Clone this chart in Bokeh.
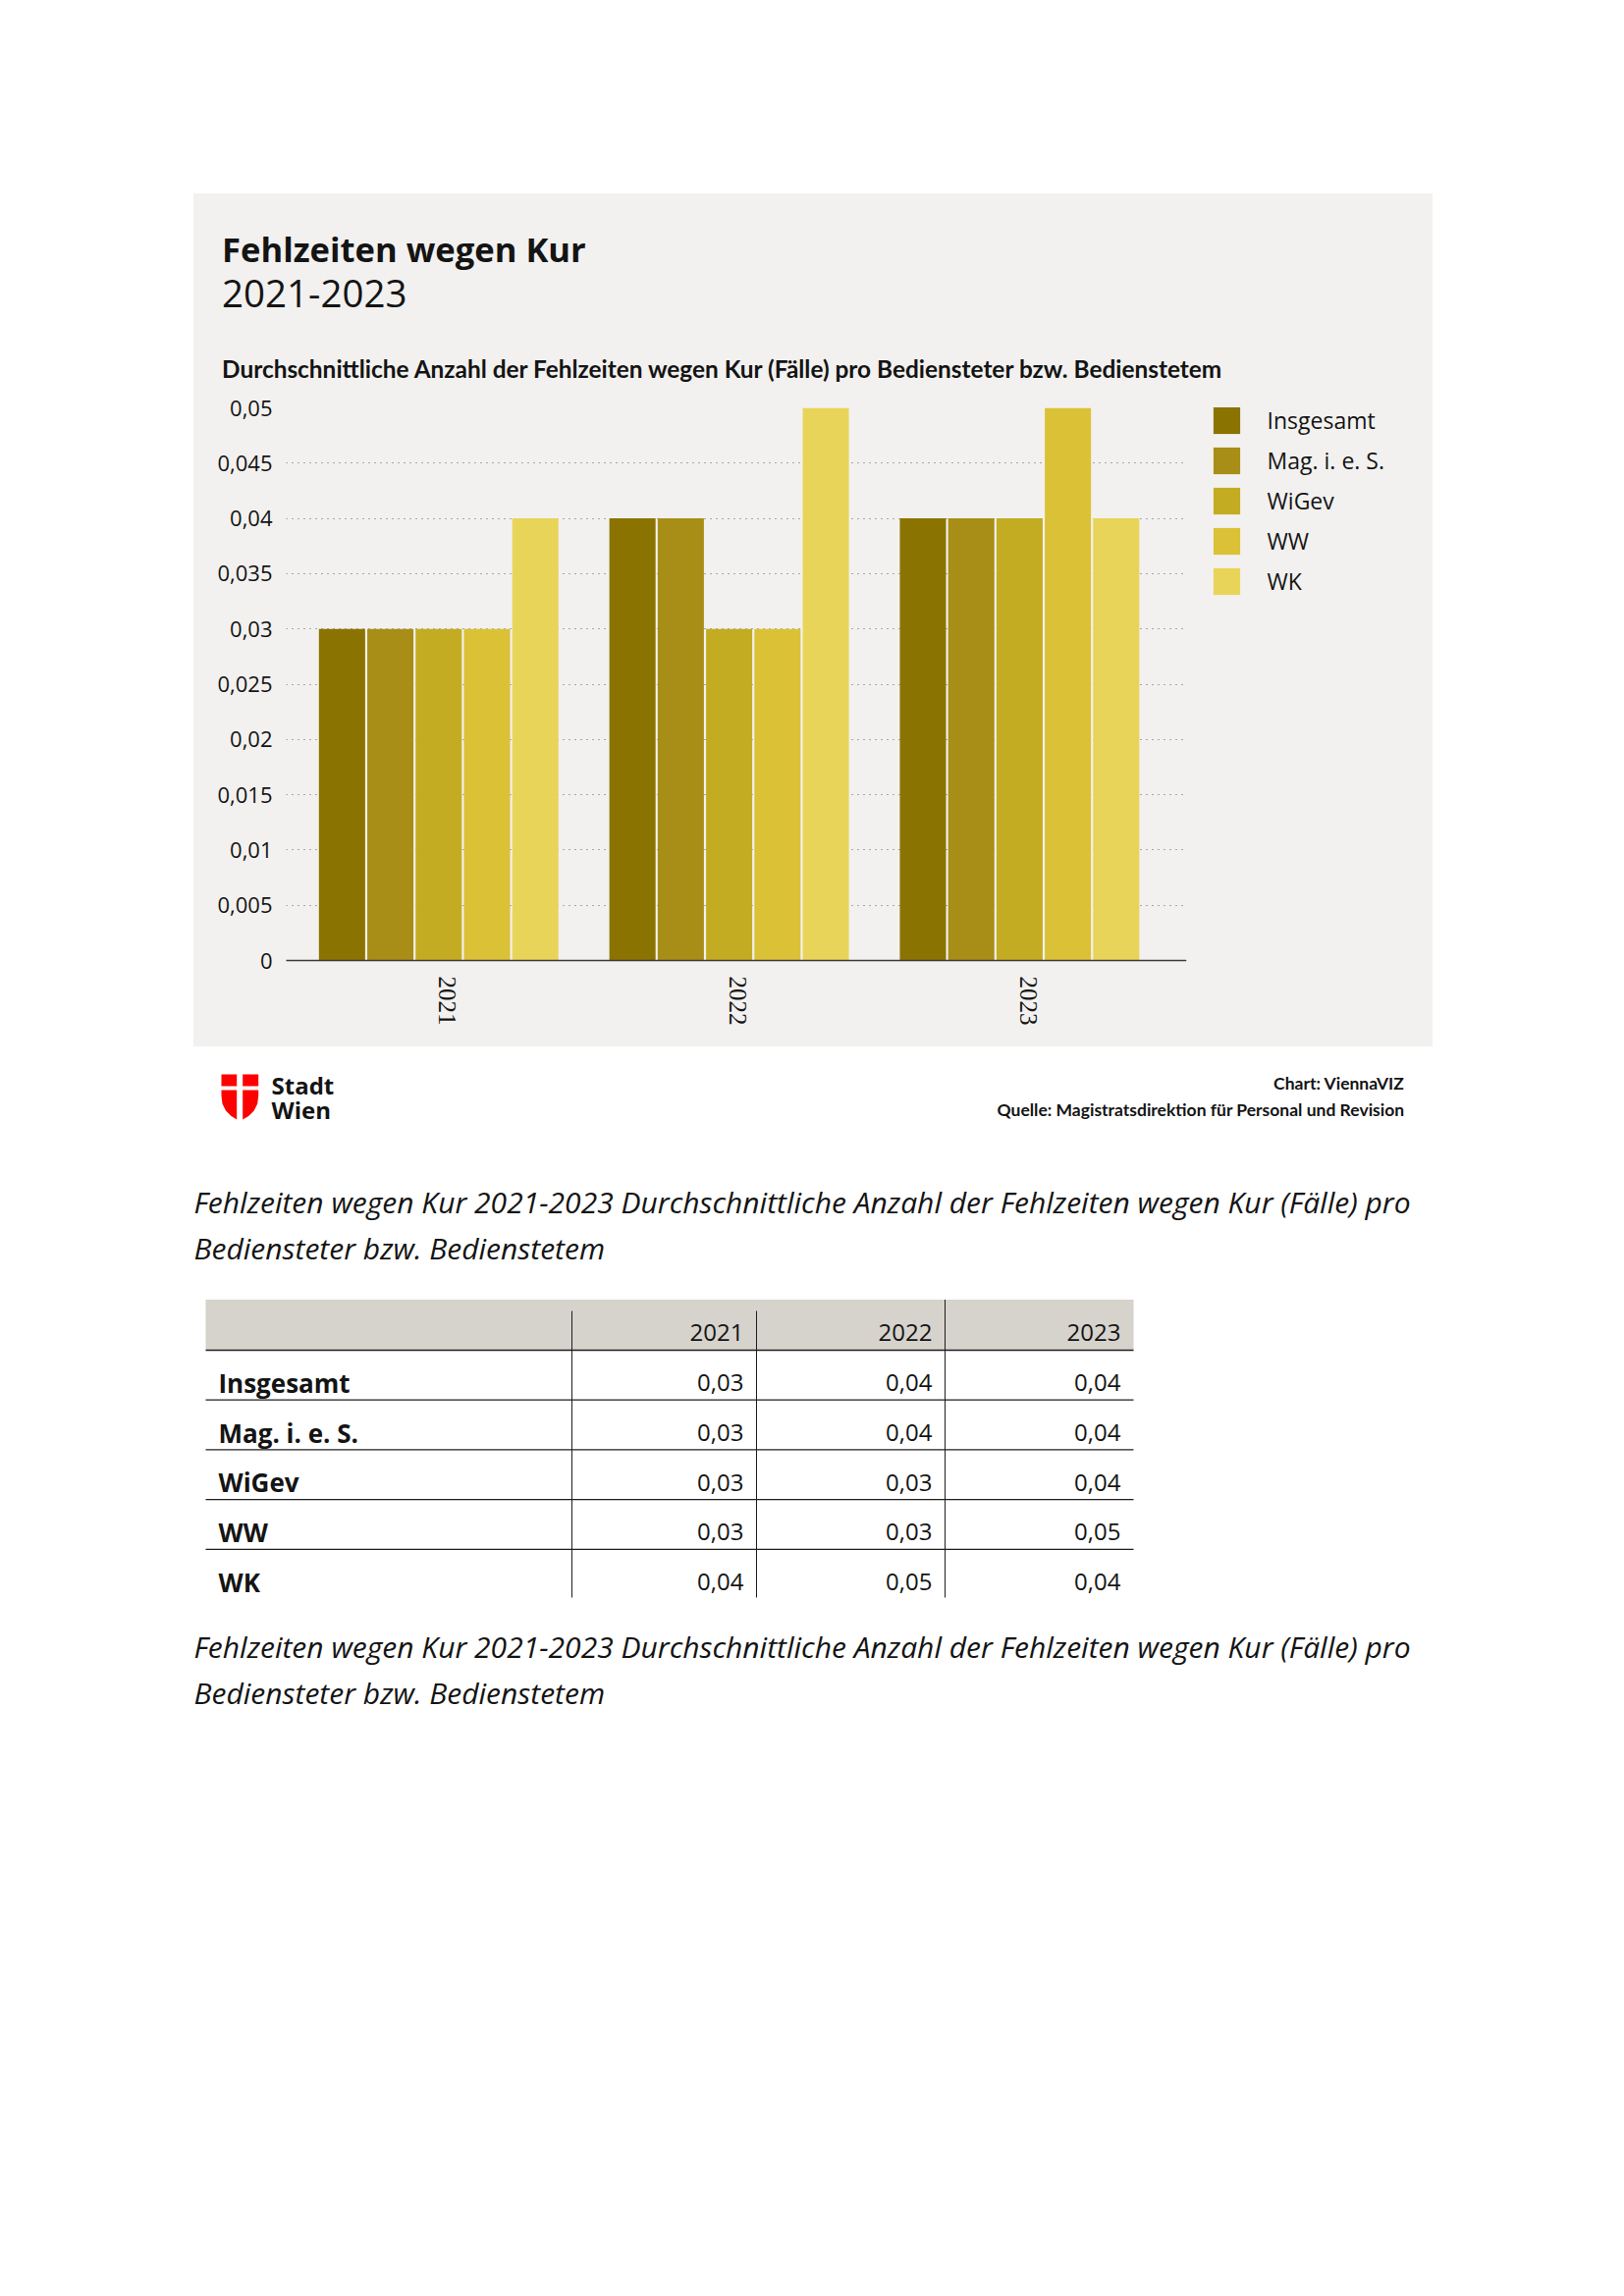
from bokeh.plotting import figure
from bokeh.models import (Range1d, FixedTicker, CustomJSTickFormatter, Legend, LegendItem,
                          Spacer, ColumnDataSource)
from bokeh.layouts import column, row
from bokeh.embed import file_html
from bokeh.resources import INLINE
from bokeh.core.properties import value

# ---------------- data ----------------
years = ["2021", "2022", "2023"]
series_names = ["Insgesamt", "Mag. i. e. S.", "WiGev", "WW", "WK"]
insgesamt = [0.03, 0.04, 0.04]
mag_ies = [0.03, 0.04, 0.04]
wigev = [0.03, 0.03, 0.04]
ww = [0.03, 0.03, 0.05]
wk = [0.04, 0.05, 0.04]
y_ticks = [0, 0.005, 0.01, 0.015, 0.02, 0.025, 0.03, 0.035, 0.04, 0.045, 0.05]

title_text = "Fehlzeiten wegen Kur"
period_text = "2021-2023"
subtitle_text = "Durchschnittliche Anzahl der Fehlzeiten wegen Kur (Fälle) pro Bediensteter bzw. Bedienstetem"
caption_lines = ["Fehlzeiten wegen Kur 2021-2023 Durchschnittliche Anzahl der Fehlzeiten wegen Kur (Fälle) pro",
                 "Bediensteter bzw. Bedienstetem"]
credit_text = "Chart: ViennaVIZ"
source_text = "Quelle: Magistratsdirektion für Personal und Revision"
logo_words = ["Stadt", "Wien"]

# ---------------- styles ----------------
colors = ["#8a7300", "#a88e16", "#c4ac22", "#dbc136", "#e9d45a"]
BG = "#f2f1ef"
INK = "#141414"

PAGE_LEFT, PAGE_TOP = 197, 197
PANEL_W = 1262
HEAD_H = 198
CHART_H = 671
CHART_W = 1011          # 94 px axis border + 917 px plot frame
LEG_W = PANEL_W - CHART_W

# ---------------- header of the panel (titles) ----------------
h = figure(width=PANEL_W, height=HEAD_H, output_backend="svg", toolbar_location=None,
           x_range=Range1d(PAGE_LEFT, PAGE_LEFT + PANEL_W),
           y_range=Range1d(PAGE_TOP + HEAD_H, PAGE_TOP),
           x_axis_type=None, y_axis_type=None, min_border=0)
h.outline_line_color = None
h.background_fill_color = BG
h.border_fill_color = BG
h.text(x=[225.5], y=[253], text=[title_text], text_font=value("Open Sans"), text_font_style="bold",
       text_font_size="34.6px", text_baseline="alphabetic", text_color=INK)
h.text(x=[225.5], y=[298], text=[period_text], text_font=value("Open Sans"),
       text_font_size="38.5px", text_baseline="alphabetic", text_color=INK)
h.text(x=[225.5], y=[375], text=[subtitle_text], text_font=value("Lato"), text_font_style="bold",
       text_font_size="24.4px", text_baseline="alphabetic", text_color=INK)

# ---------------- chart ----------------
p = figure(width=CHART_W, height=CHART_H, output_backend="svg", toolbar_location=None,
           x_range=Range1d(-0.025, 3.075), y_range=Range1d(0, 0.05),
           min_border_left=94, min_border_right=0, min_border_top=20, min_border_bottom=88)
p.background_fill_color = BG
p.border_fill_color = BG
p.outline_line_color = None

series_values = [insgesamt, mag_ies, wigev, ww, wk]
slot = 0.1664
bar_w = 0.1590
sources = []
for j, (name, vals, col) in enumerate(zip(series_names, series_values, colors)):
    xs = [i + 0.5 + (j - 2) * slot for i in range(len(years))]
    src = ColumnDataSource(dict(x=xs, top=vals, year=years))
    p.vbar(x="x", top="top", width=bar_w, source=src, fill_color=col, line_color=None)
    sources.append(src)

# x axis (labels sit a touch right of the group centre, as in the original)
label_shift = 0.03
p.xaxis.ticker = FixedTicker(ticks=[i + 0.5 + label_shift for i in range(len(years))])
p.xaxis.formatter = CustomJSTickFormatter(args=dict(years=years),
                                          code="return years[Math.round(tick - 0.5)];")
p.xaxis.major_label_orientation = "vertical"
p.xaxis.major_label_text_font = "Liberation Serif"
p.xaxis.major_label_text_font_size = "25px"
p.xaxis.major_label_text_color = INK
p.xaxis.major_label_standoff = 16
p.xaxis.axis_line_color = "#3c3c3c"
p.xaxis.axis_line_width = 1.5
p.xaxis.major_tick_line_color = None
p.xaxis.minor_tick_line_color = None
p.xaxis.major_tick_out = 0
p.xgrid.visible = False

# y axis
p.yaxis.ticker = FixedTicker(ticks=y_ticks)
p.yaxis.formatter = CustomJSTickFormatter(code="""
let s = tick.toFixed(3).replace(/0+$/, '').replace(/\\.$/, '');
return s.replace('.', ',');
""")
p.yaxis.major_label_text_font = "Open Sans"
p.yaxis.major_label_text_font_size = "22px"
p.yaxis.major_label_text_color = INK
p.yaxis.major_label_standoff = 14
p.yaxis.axis_line_color = None
p.yaxis.major_tick_line_color = None
p.yaxis.minor_tick_line_color = None
p.yaxis.major_tick_out = 0
p.ygrid.grid_line_color = "#5e5e5e"
p.ygrid.grid_line_dash = "1 5"
p.ygrid.grid_line_width = 1

# ---------------- legend column (same series sources, drawn off-view) ----------------
lf = figure(width=LEG_W, height=CHART_H, output_backend="svg", toolbar_location=None,
            x_range=Range1d(100, 101), y_range=Range1d(100, 101),
            x_axis_type=None, y_axis_type=None, min_border=0)
lf.outline_line_color = None
lf.background_fill_color = BG
lf.border_fill_color = BG
leg_renderers = [lf.vbar(x="x", top="top", width=bar_w, source=src, fill_color=col, line_color=None)
                 for src, col in zip(sources, colors)]
legend = Legend(items=[LegendItem(label=n, renderers=[r]) for n, r in zip(series_names, leg_renderers)],
                location=(23.6, 369.4), orientation="vertical",
                glyph_width=34, glyph_height=34, label_height=34, spacing=7,
                padding=0, margin=0, label_standoff=25,
                border_line_color=None, background_fill_alpha=0,
                label_text_font="Open Sans", label_text_font_size="23px", label_text_color=INK)
lf.add_layout(legend)

# ---------------- rest of page (footer, captions, table) ----------------
REST_X0, REST_Y0 = PAGE_LEFT, PAGE_TOP + HEAD_H + CHART_H
REST_W, REST_H = 1272, 700
q = figure(width=REST_W, height=REST_H, output_backend="svg", toolbar_location=None,
           x_range=Range1d(REST_X0, REST_X0 + REST_W), y_range=Range1d(REST_Y0 + REST_H, REST_Y0),
           x_axis_type=None, y_axis_type=None, min_border=0)
q.outline_line_color = None
q.background_fill_color = "white"
q.border_fill_color = "white"

# Stadt Wien logo
logo_xs = [[225, 240.7, 240.7, 225], [246.7, 262.7, 262.7, 246.7],
           [225, 240.7, 240.7, 235, 229.5, 226, 225],
           [246.7, 262.7, 262.7, 261.7, 258.2, 252.7, 246.7]]
logo_ys = [[1094, 1094, 1106, 1106], [1094, 1094, 1106, 1106],
           [1110, 1110, 1140, 1136.5, 1131, 1124, 1116],
           [1110, 1110, 1116, 1124, 1131, 1136.5, 1140]]
q.patches(xs=logo_xs, ys=logo_ys, fill_color="#ff0000", line_color=None)
q.text(x=[276, 276], y=[1104.5, 1130], text=logo_words, text_font=value("Open Sans"),
       text_font_style="bold", text_font_size="24px", text_baseline="middle", text_color=INK)

# credits
q.text(x=[1430, 1430], y=[1103, 1130], text=[credit_text, source_text],
       text_font=value("Lato"), text_font_style="bold", text_font_size="17.5px",
       text_align="right", text_baseline="middle", text_color=INK)

# captions
for cy in (1223.5, 1677):
    q.text(x=[197, 197], y=[cy, cy + 47], text=caption_lines, text_font=value("Open Sans"),
           text_font_style="italic", text_font_size="30px", text_baseline="middle", text_color=INK)

# table
tbl_left, tbl_right = 209, 1154
col_lines = [582, 770, 962]
col_rights = [col_lines[1], col_lines[2], tbl_right]
hdr_top, hdr_bot = 1323.5, 1375
row_h = 50.7
tbl_bottom = 1627

q.quad(left=[tbl_left], right=[tbl_right], top=[hdr_top], bottom=[hdr_bot],
       fill_color="#d6d2cc", line_color=None)
q.text(x=[c - 13 for c in col_rights], y=[1357] * len(years), text=years,
       text_font=value("Open Sans"), text_font_size="24px", text_align="right",
       text_baseline="middle", text_color=INK)
q.segment(x0=[tbl_left], x1=[tbl_right], y0=[hdr_bot], y1=[hdr_bot], line_color="#1e1e1e", line_width=1.5)
row_lines = [hdr_bot + row_h * (k + 1) for k in range(len(series_names) - 1)]
q.segment(x0=[tbl_left] * len(row_lines), x1=[tbl_right] * len(row_lines), y0=row_lines, y1=row_lines,
          line_color="#1e1e1e", line_width=1.2)
q.segment(x0=col_lines, x1=col_lines, y0=[1335, 1335, hdr_top], y1=[tbl_bottom] * 3,
          line_color="#1e1e1e", line_width=1)
row_centers = [1408.3 + row_h * k for k in range(len(series_names))]
q.text(x=[222] * len(series_names), y=row_centers, text=series_names,
       text_font=value("Open Sans"), text_font_style="bold", text_font_size="26px",
       text_baseline="middle", text_color=INK)
for ci, c in enumerate(col_rights):
    vals = [f"{sv[ci]:.2f}".replace(".", ",") for sv in series_values]
    q.text(x=[c - 13] * len(vals), y=row_centers, text=vals,
           text_font=value("Open Sans"), text_font_size="24px", text_align="right",
           text_baseline="middle", text_color=INK)

white = {"background-color": "white"}
panel_bg = {"background-color": BG}
layout = column(Spacer(width=10, height=PAGE_TOP),
                row(Spacer(width=PAGE_LEFT, height=HEAD_H, styles=white), h, styles=panel_bg),
                row(Spacer(width=PAGE_LEFT, height=CHART_H, styles=white), p, lf, styles=panel_bg),
                row(Spacer(width=PAGE_LEFT, height=REST_H), q))

open("out.html", "w").write(file_html(layout, INLINE))
